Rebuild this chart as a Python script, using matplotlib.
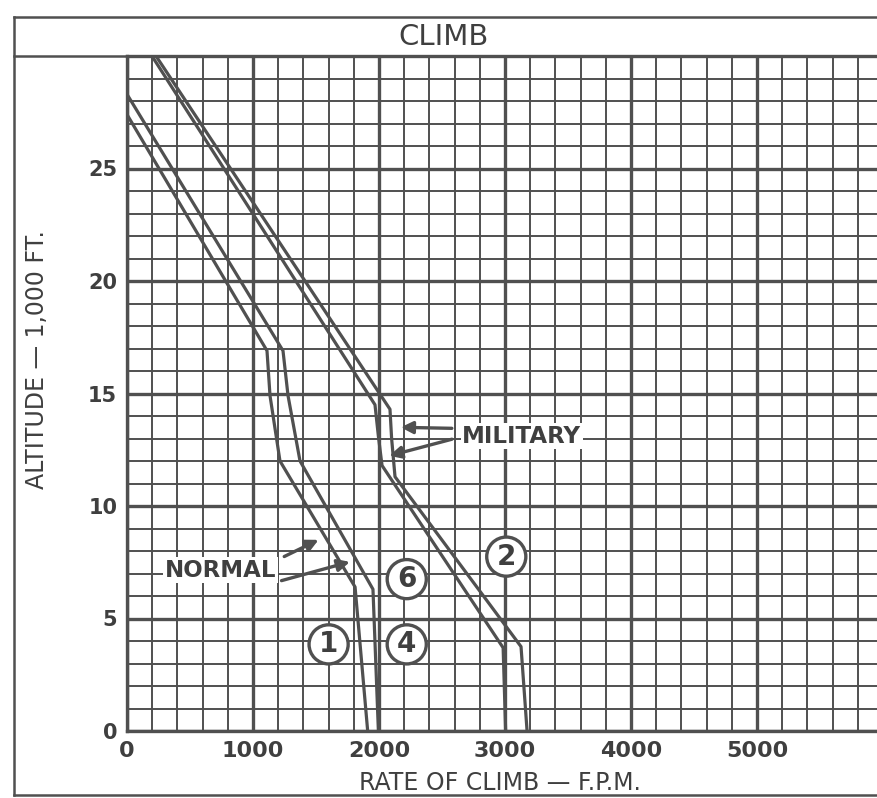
import numpy as np
import matplotlib
matplotlib.use("Agg")
import matplotlib.pyplot as plt
from matplotlib.lines import Line2D

# Climb curves: (rate of climb FPM, altitude 1000 ft)
normal_1_rate = [0, 1111, 1135, 1214, 1810, 1910]
normal_1_alt = [27.4, 16.9, 14.9, 12.0, 6.4, 0]

normal_2_rate = [0, 1238, 1278, 1373, 1952, 1995]
normal_2_alt = [28.3, 16.9, 14.9, 12.0, 6.3, 0]

military_1_rate = [198, 1968, 1995, 2024, 2985, 3005]
military_1_alt = [30, 14.5, 13.1, 11.8, 3.7, 0]

military_2_rate = [230, 2087, 2100, 2127, 3127, 3175]
military_2_alt = [30, 14.3, 13.0, 11.3, 3.75, 0]

curve_labels = ["1", "4", "6", "2"]
curve_label_rate = [1600, 2220, 2220, 3010]
curve_label_alt = [3.85, 3.85, 6.75, 7.75]

x_ticks = [0, 1000, 2000, 3000, 4000, 5000]
y_ticks = [0, 5, 10, 15, 20, 25]

ink = "#505050"
text_ink = "#3f3f3f"

plt.rcParams.update({
    "font.family": ["DejaVu Sans"],
    "text.color": text_ink,
})

fig = plt.figure(figsize=(8.78, 7.98), dpi=100)
fig.patch.set_facecolor("white")

# plot area: left edge at 127 px, top at 56 px, bottom at 731 px
ax = fig.add_axes([127 / 878, 67 / 798, 1 - 127 / 878, 675 / 798])
ax.set_xlim(0, 5960)
ax.set_ylim(0, 30)

ax.set_xticks(x_ticks)
ax.set_xticks(np.arange(0, 6000, 200), minor=True)
ax.set_yticks(y_ticks)
ax.set_yticks(np.arange(0, 31, 1), minor=True)
ax.set_xticklabels([str(v) for v in x_ticks], fontsize=16, fontweight="bold", color=text_ink)
ax.set_yticklabels([str(v) for v in y_ticks], fontsize=15, fontweight="bold", color=text_ink)
ax.tick_params(which="both", length=0)
ax.tick_params(axis="x", pad=7)
ax.tick_params(axis="y", pad=7)

ax.set_axisbelow(True)
ax.grid(which="major", color=ink, linewidth=2.4)
ax.grid(which="minor", color=ink, linewidth=1.4)

for name, sp in ax.spines.items():
    sp.set_color(ink)
    sp.set_linewidth(2.4)
ax.spines["right"].set_visible(False)

# curves
for rate, alt in [(normal_1_rate, normal_1_alt), (normal_2_rate, normal_2_alt),
                  (military_1_rate, military_1_alt), (military_2_rate, military_2_alt)]:
    ax.plot(rate, alt, color=ink, linewidth=2.3, zorder=3, clip_on=True)

# circled curve numbers
for lab, r, a in zip(curve_labels, curve_label_rate, curve_label_alt):
    ax.text(r, a, lab, fontsize=20, fontweight="bold", ha="center", va="center",
            color=text_ink, zorder=5,
            bbox=dict(boxstyle="circle,pad=0.2", facecolor="white", edgecolor=ink, linewidth=2.4))

# NORMAL / MILITARY callouts
arrow_kw = dict(arrowstyle="-|>", color=ink, lw=2.4, mutation_scale=18)
ax.text(300, 7.15, "NORMAL", fontsize=16.5, fontweight="bold", ha="left", va="center",
        color=text_ink, zorder=5,
        bbox=dict(facecolor="white", edgecolor="none", pad=1))
ax.annotate("", xy=(1540, 8.55), xytext=(1228, 7.7), arrowprops=arrow_kw, zorder=4)
ax.annotate("", xy=(1790, 7.55), xytext=(1205, 6.65), arrowprops=arrow_kw, zorder=4)

ax.text(2660, 13.1, "MILITARY", fontsize=16.5, fontweight="bold", ha="left", va="center",
        color=text_ink, zorder=5,
        bbox=dict(facecolor="white", edgecolor="none", pad=1))
ax.annotate("", xy=(2150, 13.5), xytext=(2600, 13.45), arrowprops=arrow_kw, zorder=4)
ax.annotate("", xy=(2060, 12.2), xytext=(2600, 13.0), arrowprops=arrow_kw, zorder=4)

# axis titles
fig.text(500 / 878, 1 - 783 / 798, "RATE OF CLIMB \u2014 F.P.M.", fontsize=17,
         ha="center", va="center", color=text_ink)
fig.text(37 / 878, 1 - 360 / 798, "ALTITUDE \u2014 1,000 FT.", fontsize=17, rotation=90,
         ha="center", va="center", color=text_ink)

# outer frame and title box
frame_x = 14 / 878
frame_top = 1 - 17 / 798
frame_bottom = 1 - 795 / 798
title_bottom = 1 - 56 / 798
for xs, ys in [([frame_x, frame_x], [frame_bottom, frame_top]),
               ([frame_x, 1.0], [frame_top, frame_top]),
               ([frame_x, 1.0], [frame_bottom, frame_bottom]),
               ([frame_x, 1.0], [title_bottom, title_bottom])]:
    fig.add_artist(Line2D(xs, ys, color=ink, linewidth=1.8, transform=fig.transFigure))

fig.text(444 / 878, 1 - 37 / 798, "CLIMB", fontsize=21, ha="center", va="center", color=text_ink)

fig.savefig("out.png", dpi=100, facecolor="white")
